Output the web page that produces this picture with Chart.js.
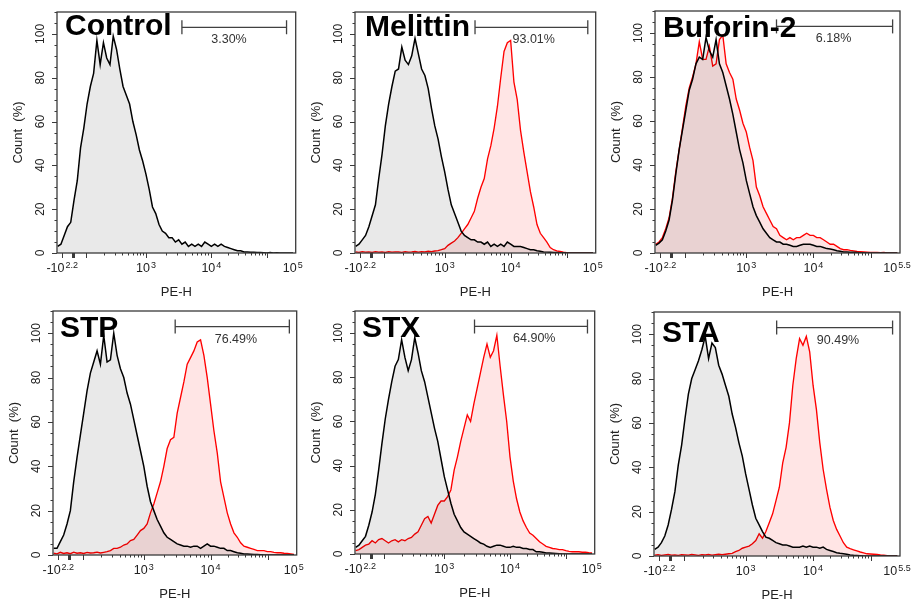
<!DOCTYPE html>
<html><head><meta charset="utf-8">
<script src="https://cdn.jsdelivr.net/npm/chart.js@4.4.1/dist/chart.umd.min.js"></script>
<style>
html,body{margin:0;padding:0;background:#fff;}
#wrap{position:relative;width:920px;height:606px;overflow:hidden;background:#fff;}
canvas{position:absolute;}
</style></head><body><div id="wrap"></div>
<script>
// PE-H bins in display units (log10 of PE-H; biexponential below 10^2)
const bins = [1.65,1.70,1.75,1.80,1.85,1.90,1.95,2.00,2.05,2.10,2.15,2.20,2.25,2.30,2.35,2.40,2.45,2.50,2.55,2.60,2.65,2.70,2.75,2.80,2.85,2.90,2.95,3.00,3.05,3.10,3.15,3.20,3.25,3.30,3.35,3.40,3.45,3.50,3.55,3.60,3.65,3.70,3.75,3.80,3.85,3.90,3.95,4.00,4.05,4.10,4.15,4.20,4.25,4.30,4.35,4.40,4.45,4.50,4.55,4.60,4.65,4.70,4.75,4.80,4.85,4.90,4.95,5.00,5.05,5.10,5.15,5.20,5.25];

// Count (%) - untreated control (black) in each panel
const controlBlack  = [3,4,8,12,14,24,33,48,57,68, 76,82,97,86,96,89,86,99,93,84, 76,72,68,60,54,47,42,36,29,21, 18,13,10,9,7,7,5,6,4,5, 3,4,3,4,3,5,4,3,4,3, 4,3,2.5,2,1.5,1,1,0.5,0.5,0.3, 0.3,0.2,0.2,0.1,0,0.2,0,0.1,0,0, 0,0,0];
const melittinBlack = [3,4,6,8,12,17,22,34,45,58, 68,76,83,84,94,88,86,90,98,91, 84,81,75,66,58,52,44,37,29,22, 18,14,10,8,7,6,6,5,5,4, 5,3,4,3,4,3,5,4,3,3, 3,2.5,2,1.5,1.5,1,0.8,0.5,0.4,0.3, 0.2,0.2,0.1,0.1,0,0,0,0,0,0, 0,0,0];
const buforinBlack  = [3.5,4.5,6,10,15,24,36,47,56,65, 74,79,86,89,88,98,92,89,97,86, 82,76,70,63,55,47,41,33,27,21, 17,14,11,9,7,6,5,5,4,4, 3.5,3,3,3.5,4,4,4,3.5,3,3, 2.5,2,1.8,1.5,1,0.8,0.5,0.4,0.3,0.3, 0.2,0.1,0.1,0,0,0,0,0,0,0, 0,0,0];
const stpBlack      = [3,3,6,9,14,20,33,44,54,64, 74,82,87,92,86,99,87,88,100,90, 84,80,73,68,61,54,47,40,31,24, 20,16,13,10,8,7,6,5,4.5,4, 4,3.5,4,4,3,4,5,4,4,3.5, 3,3,2,2,1.5,1,0.8,0.5,0.4,0.3, 0.2,0.2,0.1,0,0,0,0,0,0,0, 0,0,0];
const stxBlack      = [3,4,6,8,13,19,27,38,50,61, 70,78,85,88,97,89,83,88,98,91, 83,78,71,64,57,51,43,35,29,23, 18,15,12,10,9,8,7,6,5,4.5, 3.5,3,3.5,4,4,3.5,3,3,3.5,3, 3,2.5,2.5,2,2,1,1,0.8,0.5,0.4, 0.3,0.2,0.1,0,0,0,0,0,0,0, 0,0,0];
const staBlack      = [3,4,6,9,14,21,29,41,50,62, 73,80,84,88,93,99,89,96,94,86, 82,77,72,64,58,51,45,37,30,23, 17,14,11,8.5,8,7,6,5.5,5,5, 4.5,4,4,4,4.5,4,4.5,4,4,3.5, 4,3,2.5,2,1.5,1.2,1,0.8,0.5,0.3, 0.2,0.1,0,0,0,0,0,0,0,0, 0,0,0];

// Count (%) - treated samples (red)
const melittinRed = [0.5,0.3,0.6,0.4,0.5,0.3,0.6,0.4,0.5,0.3, 0.6,0.4,0.5,0.5,0.3,0.6,0.4,0.5,0.7,0.4, 0.6,0.5,0.8,0.6,0.9,1.1,1.5,2,3.5,4.5, 5.5,7,9,11,13,16,19,25,30,34, 43,49,57,67,80,92,96,97,78,70, 56,46,37,28,21,13,9,7,5,2.5, 1.5,1,0.7,0.4,0.2,0,0,0,0,0, 0,0,0];
const buforinRed  = [4,5,7,11,16,25,37,47,57,67, 75,80,86,96,88,88,94,85,86,97, 99,86,82,79,70,65,59,55,48,42, 30,26,21,18,15,12,11,8,7,6, 7,6,7,7,8,9,8,8,7,7, 6,5,4,4,3,2,1.5,1.5,1.2,1, 0.7,0.6,0.5,0.4,0.3,0.3,0.3,0.2,0.3,0, 0,0,0];
const stpRed      = [0.8,0.5,1.2,0.7,1,0.6,1.3,0.8,1,0.7, 1.2,0.9,1,1.3,0.9,1.2,1.5,2,3,3, 3.5,4.5,5,6.5,7,9,11,12,14,19, 23,28,33,40,48,52,53,64,71,78, 86,89,92,96,97,90,80,68,56,46, 33,26,19,14,10,8,5.5,4,3.5,3, 2.5,2,2,2,1.5,1.5,1.2,1,1,0.8, 0.7,0.5,0.3];
const stxRed      = [1.5,2,3,4,4.5,6,5,6.5,7,6, 5,6,6.5,5.5,6.5,6,7,7.5,9,10, 13,16,17,14,18,22,24,24,26,29, 38,44,51,57,63,60,68,75,82,89, 95,89,92,99,85,72,60,44,33,25, 19,15,12,9.5,8.5,7,5.5,4.5,3.5,3, 2.5,2.3,2,2,1.5,1.2,1,1,1,0.8, 0.8,0.6,0.5];
const staRed      = [0.4,0.6,0.3,0.5,0.7,0.4,0.5,0.3,0.6,0.5, 0.4,0.7,0.5,0.3,0.6,0.5,0.7,0.4,0.6,0.8, 0.6,0.8,1,1.2,2,2.5,3.5,4,4.5,5.5, 7,10,8,11,15,19,25,31,42,49, 60,77,89,98,95,99,92,77,66,51, 39,30,22,16,12,9,6,4,3.3,2.8, 2.3,1.8,1.4,1,0.9,0.8,0.7,0.5,0.4,0.2, 0,0,0];

const panelNames   = ['Control','Melittin','Buforin-2','STP','STX','STA'];
const blackSeries  = [controlBlack, melittinBlack, buforinBlack, stpBlack, stxBlack, staBlack];
const redSeries    = [null, melittinRed, buforinRed, stpRed, stxRed, staRed];
const gatePercent  = ['3.30%','93.01%','6.18%','76.49%','64.90%','90.49%'];
const gateFrom     = [3.55,3.46,3.45,3.47,3.46,3.46];
const gateTo       = [5.15,5.17,5.18,5.18,5.18,5.18];
const gateLabelAt  = [4.27,4.35,4.30,4.38,4.37,4.37];
const gateLevel    = 103;

// axis ticks
const yTickValues  = [0,20,40,60,80,100];
const xTickValues  = [1.72,3,4,5.245];
const xTickBase    = ['-10','10','10','10'];
const xTickExp     = ['2.2','3','4','5'];
const lastExp      = ['5','5','5.5','5','5','5.5'];
const xMajorMarks  = [1.72,1.88,2.086,3,4,4.858];

// layout (page pixels)
const layout = [
  {cx:0,   cy:0,   cw:304, ch:300, L:57,  R:302, T:12,  B:253, tx:8,  ty:23},
  {cx:307, cy:0,   cw:297, ch:300, L:355, R:601, T:12,  B:253, tx:10, ty:24},
  {cx:606, cy:0,   cw:314, ch:300, L:655, R:900, T:11,  B:253, tx:8,  ty:26},
  {cx:0,   cy:300, cw:305, ch:306, L:53,  R:298, T:311, B:555, tx:7,  ty:26},
  {cx:307, cy:300, cw:296, ch:306, L:355, R:599, T:311, B:554, tx:7,  ty:26},
  {cx:606, cy:300, cw:314, ch:306, L:654, R:900, T:312, B:556, tx:8,  ty:30}
];
const FONT = '"Liberation Sans", Arial, Helvetica, sans-serif';

function minorXMarks() {
  const m = [];
  for (let k = 2; k <= 9; k++) {
    m.push(2.086 + Math.log10(k) * 0.914);
    m.push(3 + Math.log10(k));
    m.push(4 + Math.log10(k) * 0.858);
  }
  return m;
}

function drawSup(ctx, x, y, base, exp) {
  ctx.font = '12.5px ' + FONT; const wb = ctx.measureText(base).width;
  ctx.font = '9px ' + FONT; const we = ctx.measureText(exp).width;
  const x0 = x - (wb + we + 1) / 2;
  ctx.textAlign = 'left'; ctx.textBaseline = 'alphabetic';
  ctx.font = '12.5px ' + FONT; ctx.fillText(base, x0, y);
  ctx.font = '9px ' + FONT; ctx.fillText(exp, x0 + wb + 1, y - 4);
}

function makeDecor(idx) {
  return {
    id: 'decor' + idx,
    afterDraw(chart) {
      const ctx = chart.ctx, a = chart.chartArea, xs = chart.scales.x, ys = chart.scales.y;
      const lay = layout[idx];
      ctx.save();
      // frame
      ctx.strokeStyle = '#3a3a3a'; ctx.lineWidth = 1.3;
      ctx.strokeRect(a.left, a.top, a.right - a.left, a.bottom - a.top);
      // y ticks
      ctx.lineWidth = 1;
      for (let v = 0; v <= 110; v += 5) {
        const y = Math.round(ys.getPixelForValue(v)) + 0.5;
        const len = (v % 20 === 0 && v <= 100) ? 5 : 2.5;
        ctx.beginPath(); ctx.moveTo(a.left - len, y); ctx.lineTo(a.left, y); ctx.stroke();
      }
      // x ticks
      xMajorMarks.forEach((v, k) => {
        const x = Math.round(xs.getPixelForValue(v)) + 0.5;
        ctx.lineWidth = (k === 1) ? 3 : 1;
        ctx.beginPath(); ctx.moveTo(x, a.bottom); ctx.lineTo(x, a.bottom + 5); ctx.stroke();
      });
      ctx.lineWidth = 1;
      minorXMarks().forEach(v => {
        const x = Math.round(xs.getPixelForValue(v)) + 0.5;
        ctx.beginPath(); ctx.moveTo(x, a.bottom); ctx.lineTo(x, a.bottom + 2.5); ctx.stroke();
      });
      // y tick labels (rotated)
      ctx.fillStyle = '#222';
      ctx.font = '12px ' + FONT;
      yTickValues.forEach(v => {
        ctx.save();
        ctx.translate(a.left - 16, ys.getPixelForValue(v));
        ctx.rotate(-Math.PI / 2);
        ctx.textAlign = 'center'; ctx.textBaseline = 'middle';
        ctx.fillText(String(v), 0, 0);
        ctx.restore();
      });
      // x tick labels with exponents
      xTickValues.forEach((v, k) => {
        const exp = (k === xTickValues.length - 1) ? lastExp[idx] : xTickExp[k];
        drawSup(ctx, xs.getPixelForValue(v), a.bottom + 19, xTickBase[k], exp);
      });
      // axis titles
      ctx.font = '13px ' + FONT; ctx.textAlign = 'center'; ctx.textBaseline = 'alphabetic';
      ctx.fillText('PE-H', (a.left + a.right) / 2, a.bottom + 43);
      ctx.save();
      ctx.translate(a.left - 39, (a.top + a.bottom) / 2);
      ctx.rotate(-Math.PI / 2);
      ctx.textBaseline = 'middle';
      ctx.fillText('Count  (%)', 0, 0);
      ctx.restore();
      // gate percentage
      ctx.fillStyle = '#333';
      ctx.font = '12.5px ' + FONT; ctx.textAlign = 'center';
      ctx.fillText(gatePercent[idx], xs.getPixelForValue(gateLabelAt[idx]), ys.getPixelForValue(gateLevel) + 16);
      // panel title
      ctx.fillStyle = '#000';
      ctx.font = 'bold 30px ' + FONT; ctx.textAlign = 'left';
      ctx.fillText(panelNames[idx], a.left + lay.tx, a.top + lay.ty);
      ctx.restore();
    }
  };
}

const wrap = document.getElementById('wrap');
layout.forEach((lay, idx) => {
  const cv = document.createElement('canvas');
  cv.width = lay.cw; cv.height = lay.ch;
  cv.style.left = lay.cx + 'px'; cv.style.top = lay.cy + 'px';
  cv.style.width = lay.cw + 'px'; cv.style.height = lay.ch + 'px';
  wrap.appendChild(cv);

  const datasets = [];
  datasets.push({
    data: [{x: gateFrom[idx], y: gateLevel}, {x: gateTo[idx], y: gateLevel}],
    borderColor: '#404040', borderWidth: 1.3, fill: false,
    pointStyle: 'line', pointRotation: 90, pointRadius: 7,
    pointBorderColor: '#404040', pointBorderWidth: 1.3, order: 0
  });
  datasets.push({
    data: bins.map((x, i) => ({x: x, y: blackSeries[idx][i]})),
    borderColor: '#000', borderWidth: 1.5, backgroundColor: 'rgba(0,0,0,0.085)',
    fill: 'origin', pointRadius: 0, tension: 0, order: 1
  });
  if (redSeries[idx]) {
    datasets.push({
      data: bins.map((x, i) => ({x: x, y: redSeries[idx][i]})),
      borderColor: '#ff0000', borderWidth: 1.35, backgroundColor: 'rgba(255,0,0,0.10)',
      fill: 'origin', pointRadius: 0, tension: 0, order: 2
    });
  }

  new Chart(cv, {
    type: 'line',
    data: {datasets: datasets},
    options: {
      responsive: false, animation: false, events: [], devicePixelRatio: 1,
      layout: {padding: {left: 0, top: lay.T - lay.cy, right: lay.cx + lay.cw - lay.R, bottom: 0}},
      plugins: {legend: {display: false}, tooltip: {enabled: false}, title: {display: false}},
      scales: {
        x: {type: 'linear', min: 1.64, max: 5.29, grid: {display: false}, border: {display: false},
            ticks: {display: false}, afterFit: (s) => { s.height = lay.cy + lay.ch - lay.B; }},
        y: {type: 'linear', min: 0, max: 110, grid: {display: false}, border: {display: false},
            ticks: {display: false}, afterFit: (s) => { s.width = lay.L - lay.cx; }}
      }
    },
    plugins: [makeDecor(idx)]
  });
});
</script>
</body></html>
